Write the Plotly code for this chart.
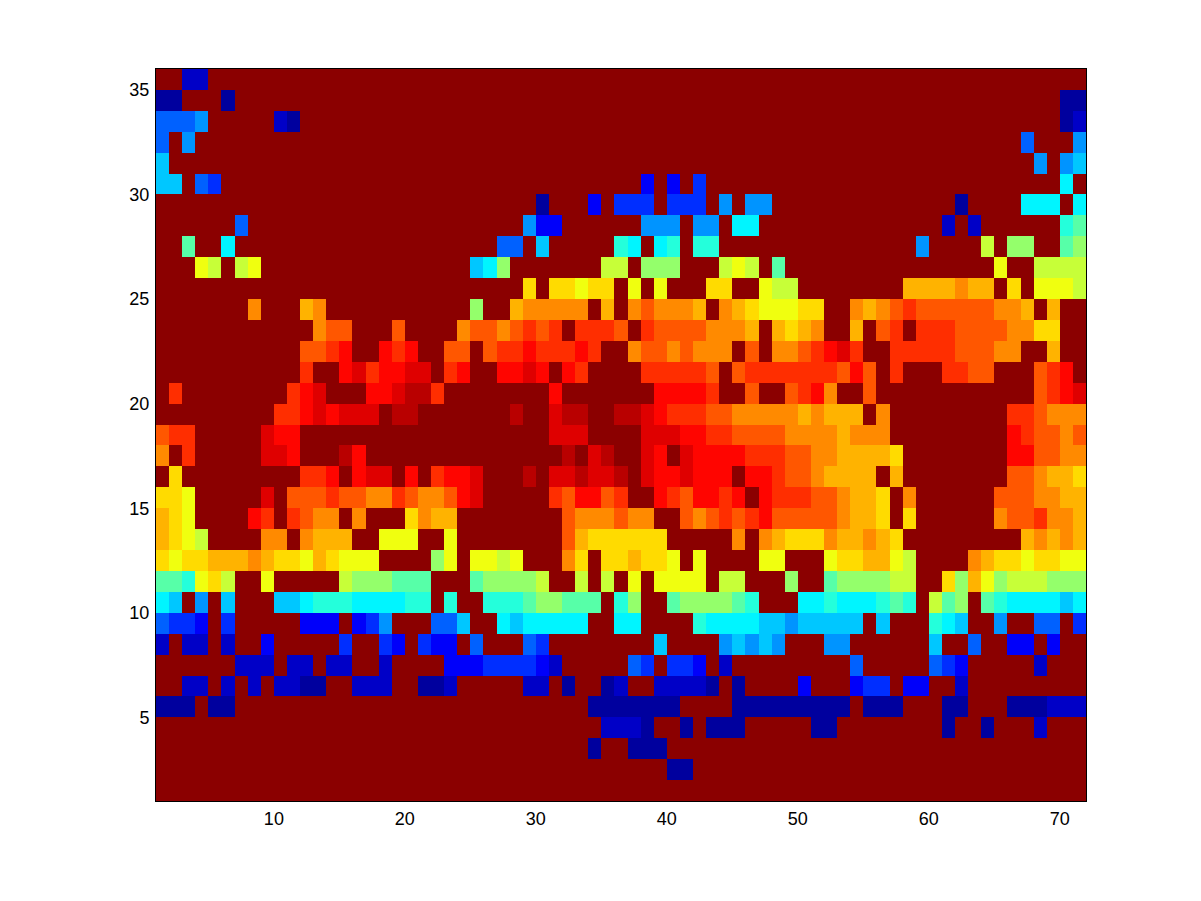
import plotly.graph_objects as go

# Jet-scale position of each colour code used in the rows below
LEVELS = {"0": .03, "1": .07, "2": .12, "3": .17, "4": .22, "5": .27, "6": .32, "7": .365,
          "8": .41, "9": .46, "a": .52, "b": .57, "c": .61, "d": .66, "e": .70, "f": .74,
          "g": .79, "h": .83, "i": .87, "j": .91, "k": .95}
BACKGROUND = 1.0

x_edges = list(range(1, 73))
y_edges = list(range(1, 37))
x_ticks = [10, 20, 30, 40, 50, 60, 70]
y_ticks = [5, 10, 15, 20, 25, 30, 35]

# Each row: "first_column:codes" runs; the remaining cells hold the background value
row_35 = "3:11"
row_34 = "1:00 6:0 70:00"
row_33 = "1:444 4:5 10:10 70:01"
row_32 = "1:4 3:5 67:4 71:5"
row_31 = "1:6 68:5 70:56"
row_30 = "1:66 4:43 38:2 40:2 42:3 70:7"
row_29 = "30:0 34:2 36:333 40:333 44:5 46:55 62:0 67:777 71:7"
row_28 = "7:4 29:522 38:555 42:55 45:77 61:1 63:1 70:89"
row_27 = "3:9 6:7 27:44 30:6 36:87 39:78 42:88 59:5 64:b 66:aa 70:9a"
row_26 = "4:cb 7:bc 25:67a 35:bb 38:aaa 44:bcb 48:9 65:c 68:bbbb"
row_25 = "29:d 31:ddcdd 37:c 39:c 43:dd 47:cbb 58:eeee 62:f 63:ee 66:d 68:ccc 71:b"
row_24 = "8:f 12:ef 25:a 28:efffff 35:e 37:fgfffe 44:fedcccdd 54:fefghggggggffe 69:e"
row_23 = "13:fgg 19:g 24:fggfghgh 33:hhhg 38:hggggfffe 48:edef 54:e 56:gh 59:hhhggggffdd"
row_22 = "12:gghi 18:ihi 23:gg 26:ghhihhhih 37:fggfgfff 46:g 48:ffghijh 57:hhhhhgggff 69:e"
row_21 = "12:h 15:ijhiijj 23:hi 27:iiji 32:ih 38:hhhhhg 45:ghhhhhhhgig 57:h 61:hhgg 68:ghi"
row_20 = "2:h 11:hij 17:iijkkh 31:i 39:iiiih 46:g 49:ghif 55:g 68:ghij"
row_19 = "10:hhijijjj 19:kk 28:k 31:jkk 36:kkjihhhggfffffefeee 56:f 66:hhgfff"
row_18 = "1:ghh 9:jii 31:jjj 38:jjjiihhggggffffefff 66:ihggfg"
row_17 = "1:f 3:h 9:jji 15:ki 32:k 34:jk 38:ji 41:jiiiihhhggffeeeed 66:iiggff"
row_16 = "2:d 12:hhi 16:ijj 20:i 22:hiij 29:k 31:jjkjjk 38:jiijiii 46:iihggfeeee 57:e 66:ggfeed"
row_15 = "1:ddc 9:j 11:ggghggffhgffgij 31:hgiigh 39:ihgiihi 47:ihhhggfeed 58:f 65:gggffee"
row_14 = "1:edc 8:ih 11:hgff 16:f 20:dfee 32:gfffgff 41:gfghghigggggfeed 58:d 65:fgghffe"
row_13 = "1:edcb 9:ff 12:feee 18:ccc 23:c 32:gedddddd 45:f 47:fedddfeefed 67:efefe"
row_12 = "1:dcddeeefeddcedccc 22:ac 25:ccbc 32:fd 35:ddeddc 42:c 47:cc 52:cddeecb 63:feddcddcc"
row_11 = "1:998cdb 9:c 15:baaa999 25:9aaaab 33:b 35:b 37:c 39:cccc 44:bb 49:a 52:9aaaabb 61:daecabbbaaa"
row_10 = "1:76 4:5 6:6 10:667888777788 23:8 26:8889aa999 36:8a 40:9aaaa98 50:778777898 60:b9a 64:98777767"
row_9 = "1:4332 6:3 12:222 16:235 22:446 27:7677777 36:77 42:8777766566666 56:6 60:876 65:5 68:44 71:3"
row_8 = "1:1 3:11 6:1 9:2 15:3 18:32 21:322 25:4 29:43 39:6 44:56565 52:55 60:6 63:4 66:22 69:2"
row_7 = "7:111 11:11 14:11 18:1 23:222333321 37:43 40:332 44:1 54:4 60:432 68:1"
row_6 = "3:11 6:1 8:1 10:1100 16:111 21:001 29:11 32:0 35:01 39:11110 45:0 50:2 54:233 58:22 62:1"
row_5 = "1:000 5:00 34:0000000 45:000000000 55:000 61:00 66:000111"
row_4 = "35:1110 41:0 43:000 51:00 61:0 64:0 68:1"
row_3 = "34:0 37:000"
row_2 = "40:00"
row_1 = ""

rows = [row_1, row_2, row_3, row_4, row_5, row_6, row_7, row_8, row_9, row_10, row_11, row_12,
        row_13, row_14, row_15, row_16, row_17, row_18, row_19, row_20, row_21, row_22, row_23,
        row_24, row_25, row_26, row_27, row_28, row_29, row_30, row_31, row_32, row_33, row_34,
        row_35]


def decode(row):
    cells = [BACKGROUND] * 71
    for run in row.split():
        start, codes = run.split(":")
        for i, code in enumerate(codes):
            cells[int(start) - 1 + i] = LEVELS[code]
    return cells


z = [decode(r) for r in rows]

jet = [
    [0.0, "rgb(0,0,128)"], [0.125, "rgb(0,0,255)"], [0.375, "rgb(0,255,255)"],
    [0.625, "rgb(255,255,0)"], [0.875, "rgb(255,0,0)"], [1.0, "rgb(139,0,0)"],
]

fig = go.Figure(go.Heatmap(x=x_edges, y=y_edges, z=z, zmin=0, zmax=1, colorscale=jet,
                           showscale=False, zsmooth=False))

font = dict(family="Liberation Sans, Arial, sans-serif", size=18, color="black")
axis = dict(showgrid=False, zeroline=False, showline=True, mirror=True, linecolor="black",
            linewidth=1, ticks="outside", tickcolor="rgba(0,0,0,0)", tickfont=font)
fig.update_xaxes(range=[1, 72], tickvals=x_ticks, ticklen=1, **axis)
fig.update_yaxes(range=[1, 36], tickvals=y_ticks, ticklen=2, **axis)
fig.update_layout(width=1185, height=885, autosize=False, paper_bgcolor="white",
                  plot_bgcolor="white", margin=dict(l=148, r=107, t=61, b=92))
fig.write_html("out.html")
